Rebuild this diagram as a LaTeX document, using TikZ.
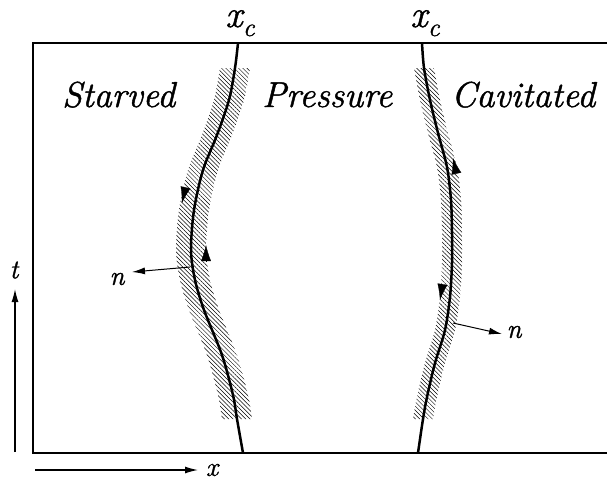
\documentclass[tikz,border=0pt]{standalone}
\usepackage{fontspec}
\newfontfamily\lmi{Latin Modern Roman}[ItalicFeatures={FakeBold=1.2}]
\usetikzlibrary{arrows.meta,patterns.meta}
\tikzset{
  frame/.style={line width=2pt},
  front/.style={line width=2.5pt},
  band/.style={pattern={Lines[angle=-45,distance=3pt,line width=0.5pt]}},
  bandarrow/.style={line width=0.3pt,-{Latex[length=16pt,width=10pt]}},
  axisarrow/.style={line width=1.3pt,-{Latex[length=13pt,width=7pt]}},
  normarrow/.style={line width=1pt,-{Latex[length=13pt,width=7pt]}},
  region/.style={font=\lmi\fontsize{36}{40}\selectfont\itshape,anchor=base west,inner sep=0pt},
  lab/.style={font=\lmi\fontsize{27}{29}\selectfont\itshape,inner sep=0pt},
}
\newcommand{\xclabel}{\lmi\fontsize{38}{40}\selectfont\itshape\smash{x\kern0.5pt\raisebox{-9pt}{\fontsize{26}{28}\selectfont c}}}
\begin{document}
\begin{tikzpicture}[x=1pt,y=-1pt]
\useasboundingbox (0,0) rectangle (607,483);
% bands
\fill[band] plot[smooth] coordinates {(220,68) (214,100) (202,135) (188,170) (179,210) (176,250) (180,280) (189,310) (207,355) (218,395) (222,419)}
  -- plot[smooth] coordinates {(252,419) (248,395) (237,355) (219,310) (210,280) (206,250) (209,210) (218,170) (232,135) (244,100) (250,68)} -- cycle;
\fill[band] plot[smooth] coordinates {(414,68) (420,100) (428,133) (437,167) (441,200) (442,233) (442,263) (440,297) (435,330) (425,363) (417,397) (413,419)}
  -- plot[smooth] coordinates {(433,419) (437,397) (445,363) (455,330) (460,297) (462,263) (462,233) (461,200) (457,167) (448,133) (440,100) (434,68)} -- cycle;
% frame
\draw[frame] (607,43) -- (33,43) -- (33,453) -- (607,453);
% fronts
\draw[front] plot[smooth] coordinates {(238,43) (235,68) (229,100) (217,135) (203,170) (194,210) (191,250) (195,280) (204,310) (222,355) (233,395) (237,419) (243,453)};
\draw[front] plot[smooth] coordinates {(422,43) (424,68) (430,100) (438,133) (447,167) (451,200) (452,233) (452,263) (450,297) (445,330) (435,363) (427,397) (423,419) (418,453)};
% circulation arrows
\coordinate (a1s) at (185.5,187.5); \coordinate (a1e) at (182,203);
\coordinate (a2s) at (206,261); \coordinate (a2e) at (206,245);
\coordinate (a3s) at (456.5,174); \coordinate (a3e) at (453,158);
\coordinate (a4s) at (442.5,284); \coordinate (a4e) at (440,300);
\draw[bandarrow] (a1s) -- (a1e);
\draw[bandarrow] (a2s) -- (a2e);
\draw[bandarrow] (a3s) -- (a3e);
\draw[bandarrow] (a4s) -- (a4e);
% normals
\coordinate (nL0) at (190,267); \coordinate (nL1) at (132,272);
\coordinate (nR0) at (453,323); \coordinate (nR1) at (502,334);
\draw[normarrow] (nL0) -- (nL1);
\draw[normarrow] (nR0) -- (nR1);
\node[lab] (nL) at (117,279) {n};
\node[lab] (nR) at (514,332) {n};
% axes
\coordinate (t0) at (15,452); \coordinate (t1) at (15,289);
\coordinate (x0) at (35,470); \coordinate (x1) at (198,470);
\draw[axisarrow] (t0) -- (t1);
\draw[axisarrow] (x0) -- (x1);
\node[lab] (tl) at (14,270) {t};
\node[lab] (xl) at (212,470) {x};
% labels
\node[inner sep=0pt,anchor=base] (xc1) at (240,27) {\xclabel};
\node[inner sep=0pt,anchor=base] (xc2) at (425,27) {\xclabel};
\node[region] (s) at (62,107) {Starved};
\node[region] (p) at (262,107) {Pressure};
\node[region] (c) at (451,107) {Cavitated};
\end{tikzpicture}
\end{document}
